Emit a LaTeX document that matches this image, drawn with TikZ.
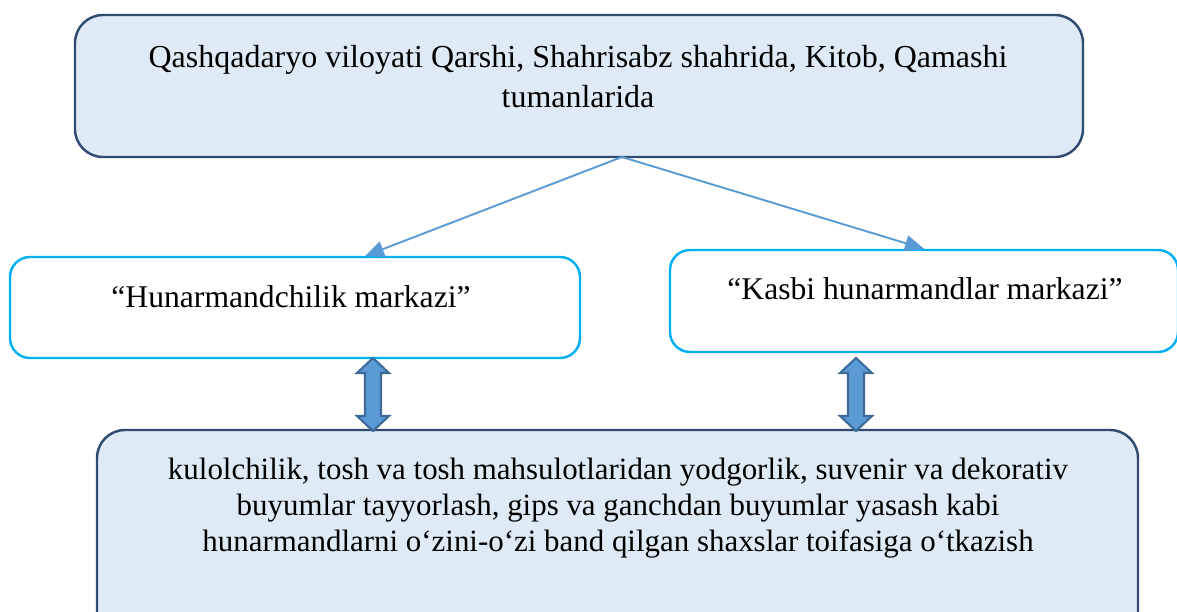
\documentclass[tikz,border=0pt]{standalone}
\usepackage{fontspec}
\setmainfont{Liberation Serif}
\usetikzlibrary{arrows.meta,fit}
\definecolor{boxfill}{HTML}{DEEBF7}
\definecolor{boxline}{HTML}{2F4B70}
\definecolor{cyanline}{HTML}{00B0F0}
\definecolor{linkblue}{HTML}{5B9BD5}
\definecolor{dblline}{HTML}{3D6A96}
\tikzset{
  bluebox/.style={draw=boxline, fill=boxfill, line width=1.4pt, rounded corners=0.56cm, inner sep=0pt},
  cyanbox/.style={draw=cyanline, fill=white, line width=1.4pt, rounded corners=0.4cm, inner sep=0pt},
  link/.style={draw=linkblue, line width=1.1pt, -{Triangle[length=0.38cm, width=0.32cm]}},
  dblarrow/.style={draw=dblline, fill=linkblue, line width=1.2pt, line join=miter},
  bigtext/.style={align=center, font=\fontsize{18.2}{22.7}\selectfont},
  midtext/.style={align=center, font=\fontsize{18}{20}\selectfont},
  smalltext/.style={align=center, font=\fontsize{17.6}{20.7}\selectfont},
}
\begin{document}
\begin{tikzpicture}[x=0.02cm, y=-0.02cm]
  \useasboundingbox (0,0) rectangle (1177,612);
  \clip (0,0) rectangle (1177,612);

  % Top box: region
  \node [bluebox, fit={(75,15) (1083,157)}] (region) {};
  \node [bigtext] (regiontxt) at (578,77) {Qashqadaryo viloyati Qarshi, Shahrisabz shahrida, Kitob, Qamashi\\tumanlarida};

  % Middle boxes: the two centres
  \node [cyanbox, fit={(10,257) (580,358)}] (craft) {};
  \node [midtext] (crafttxt) at (291,297) {“Hunarmandchilik markazi”};
  \node [cyanbox, fit={(670,250) (1178,352)}] (pro) {};
  \node [midtext] (protxt) at (925,289) {“Kasbi hunarmandlar markazi”};

  % Bottom box: trades
  \node [bluebox, fit={(97,430) (1138,640)}] (trades) {};
  \node [smalltext] (tradestxt) at (618,508) {kulolchilik, tosh va tosh mahsulotlaridan yodgorlik, suvenir va dekorativ\\buyumlar tayyorlash, gips va ganchdan buyumlar yasash kabi\\hunarmandlarni o‘zini-o‘zi band qilgan shaxslar toifasiga o‘tkazish};

  % Links from region down to the centres
  \coordinate (fork) at (622,157);
  \coordinate (craftin) at (365,256);
  \draw [link] (fork) -- (craftin);
  \draw [link] (fork) -- (pro.north);

  % Double arrows between the centres and the trades box
  \draw [dblarrow] (373,358) -- ++(16,15) -- ++(-8,0) -- ++(0,43) -- ++(8,0)
    -- (373,431) -- ++(-16,-15) -- ++(8,0) -- ++(0,-43) -- ++(-8,0) -- cycle;
  \draw [dblarrow] (856,358) -- ++(16,15) -- ++(-8,0) -- ++(0,43) -- ++(8,0)
    -- (856,431) -- ++(-16,-15) -- ++(8,0) -- ++(0,-43) -- ++(-8,0) -- cycle;
\end{tikzpicture}
\end{document}
